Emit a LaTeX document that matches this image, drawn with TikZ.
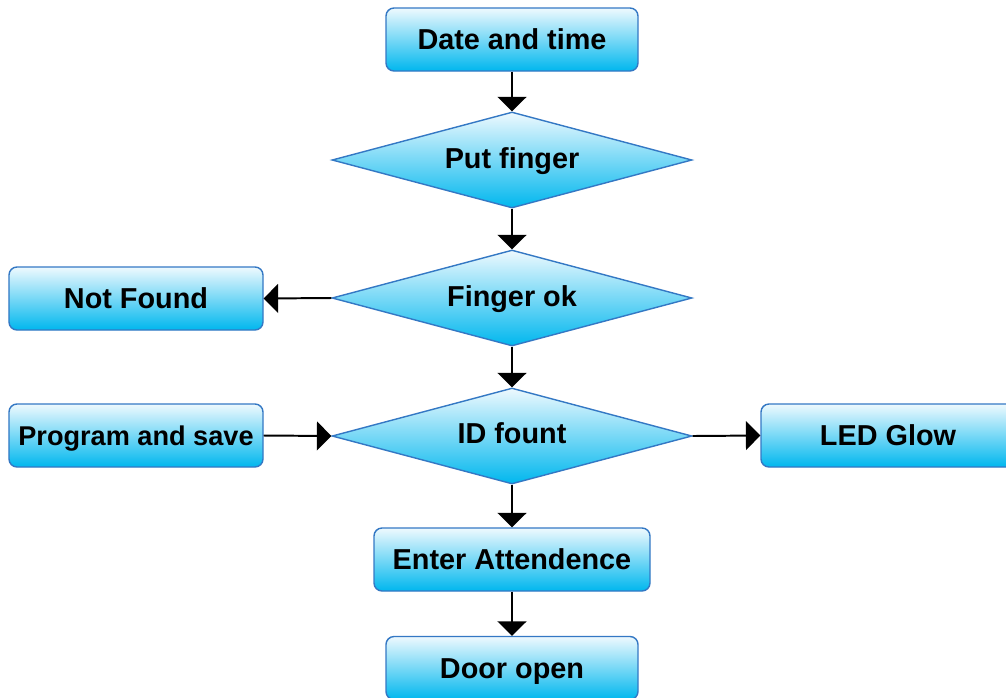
\documentclass[tikz,border=0pt]{standalone}
\usepackage{fontspec}
\setmainfont{Liberation Sans}
\usepackage[usenames]{xcolor}
\usepackage{tikz}
\usetikzlibrary{positioning}
\usetikzlibrary{shapes.geometric}
\usetikzlibrary{arrows.meta}
\definecolor{my_border}{RGB}{52,120,196}
\definecolor{my_top}{RGB}{238,249,254}
\definecolor{my_bottom}{RGB}{0,183,238}
\tikzset{my_chart/.style={-{Triangle[width=0.72cm,length=0.36cm]},line width=1.4pt}}
\tikzset{my_text/.style={font=\fontsize{20.5}{24}\selectfont\bfseries, text height=14.7pt, text depth=0pt}}
\tikzset{my_box/.style={rectangle, rounded corners=0.2cm, draw=my_border, line width=1pt, top color=my_top, bottom color=my_bottom, minimum width=6.3cm, minimum height=1.575cm, inner sep=2pt, my_text}}
\tikzset{my_decision/.style={diamond, aspect=3.75, inner sep=0pt, draw=my_border, line width=1pt, top color=my_top, bottom color=my_bottom, minimum width=9cm, minimum height=2.4cm, my_text, text height=12pt}}

\begin{document}
\begin{tikzpicture}[my_chart]
    \clip (0,0) rectangle (25.15,-17.425);
    \useasboundingbox (0,0) rectangle (25.15,-17.425);
    %\draw[help lines] (0,0) grid (25,-17);
    \node[my_box] (date) at (12.8,-0.9875) {Date and time};
    \node[my_decision] (put) at (12.8,-4.0) {Put finger};
    \node[my_decision] (ok) at (12.8,-7.45) {Finger ok};
    \node[my_box, minimum width=6.35cm] (notfound) at (3.4,-7.4625) {Not Found};
    \node[my_decision, text height=10.4pt] (id) at (12.8,-10.9) {ID fount};
    \node[my_box, minimum width=6.35cm, font=\fontsize{19.3}{23}\selectfont\bfseries] (program) at (3.4,-10.8875) {Program and save};
    \node[my_box, minimum width=6.35cm] (led) at (22.2,-10.8875) {LED Glow};
    \node[my_box, minimum width=6.9cm] (enter) at (12.8,-13.9875) {Enter Attendence};
    \node[my_box] (door) at (12.8,-16.7) {Door open};

    \path
        (date) edge (put)
        (put) edge (ok)
        (ok.west) edge (notfound.east)
        (ok) edge (id)
        (program.east) edge (id.west)
        (id.east) edge (led.west)
        (id) edge (enter)
        (enter) edge (door)
    ;
\end{tikzpicture}
\end{document}
